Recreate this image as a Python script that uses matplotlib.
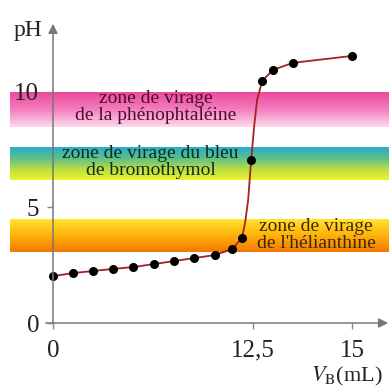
import numpy as np
import matplotlib
matplotlib.use("Agg")
import matplotlib.pyplot as plt
from matplotlib.colors import LinearSegmentedColormap

plt.rcParams['font.family'] = ['Liberation Serif', 'DejaVu Serif']
plt.rcParams['mathtext.fontset'] = 'stix'

# titration points (V_B in mL, pH)
v_pts = [0, 1.25, 2.5, 3.75, 5.0, 6.31, 7.56, 8.81, 10.1, 11.2, 11.8, 12.38, 12.73, 13.0, 13.5, 15.0]
ph_pts = [2.03, 2.16, 2.25, 2.34, 2.42, 2.55, 2.68, 2.81, 2.94, 3.2, 3.68, 7.06, 10.48, 10.95, 11.26, 11.56]

# the drawn curve
v_curve = [0, 1.25, 2.5, 3.75, 5.0, 6.31, 7.56, 8.81, 10.1, 11.2, 11.8, 12.0, 12.19, 12.38,
           12.53, 12.6, 12.73, 13.0, 13.5, 15.0]
ph_curve = [2.03, 2.16, 2.25, 2.34, 2.42, 2.55, 2.68, 2.81, 2.94, 3.2, 3.68, 4.33, 5.32, 7.06,
            8.57, 9.65, 10.48, 10.95, 11.26, 11.56]

# indicator zones (pH top, pH bottom)
zone_names = ["zone de virage\nde la phénophtaléine",
              "zone de virage du bleu\nde bromothymol",
              "zone de virage\nde l'hélianthine"]
zone_top = [10.0, 7.6, 4.5]
zone_bottom = [8.5, 6.2, 3.1]
zone_colors = [["#ea4a9b", "#f37dbd", "#fcd6eb"],
               ["#28aec8", "#5cbf8c", "#b9dc45", "#eef22a"],
               ["#ffe32e", "#ffb10a", "#f27a00"]]
text_colors = ["#4e0c30", "#112a16", "#3e2800"]
text_pos = [(6.44, 9.35), (6.1, 6.97), (14.09, 3.81)]

x_ticks = [0, 12.5, 15]
x_ticklabels = ["0", "12,5", "15"]
y_ticks = [0, 5, 10]

# the x axis of the figure is not to scale: stretched after the equivalence
BREAK = 12.5
def fwd(v):
    v = np.asarray(v, dtype=float)
    return np.where(v <= BREAK, v * 16.0, 200.0 + (v - BREAK) * 39.6)

def inv(p):
    p = np.asarray(p, dtype=float)
    return np.where(p <= 200.0, p / 16.0, BREAK + (p - 200.0) / 39.6)

fig = plt.figure(figsize=(3.89, 3.87), dpi=100)
ax = fig.add_axes([0, 0, 1, 1])
ax.set_xscale('function', functions=(fwd, inv))
ax.set_xlim(-3.31, 15.93)
ax.set_ylim(-2.77, 13.98)

# gradient bands
for top, bot, cols in zip(zone_top, zone_bottom, zone_colors):
    cmap = LinearSegmentedColormap.from_list("z", cols)
    n = 60
    edges = np.linspace(top, bot, n + 1)
    for i in range(n):
        ax.axhspan(edges[i + 1] - 0.01, edges[i], xmin=0.026, xmax=1.0,
                   color=cmap(i / (n - 1)), lw=0, zorder=1)

for name, (tx, ty), tc in zip(zone_names, text_pos, text_colors):
    ax.text(tx, ty, name, ha='center', va='center', fontsize=14, color=tc,
            linespacing=0.95, zorder=3)

# curve + points
ax.plot(v_curve, ph_curve, color="#a82020", lw=1.3, zorder=4)
ax.plot(v_pts, ph_pts, 'o', color="black", ms=5.5, zorder=5)

# axes with arrows
for s in ax.spines.values():
    s.set_visible(False)
ax.spines['left'].set_position(('data', 0))
ax.spines['bottom'].set_position(('data', 0))
ax.annotate('', xy=(0, 12.95), xytext=(0, 0), zorder=6,
            arrowprops=dict(arrowstyle='-|>', color='#777777', lw=1.1,
                            mutation_scale=14, shrinkA=0, shrinkB=0))
ax.annotate('', xy=(15.91, 0), xytext=(-0.45, 0), zorder=6,
            arrowprops=dict(arrowstyle='-|>', color='#777777', lw=1.1,
                            mutation_scale=14, shrinkA=0, shrinkB=0))

ax.set_xticks(x_ticks)
ax.set_xticklabels(x_ticklabels)
ax.set_yticks(y_ticks)
ax.tick_params(axis='both', direction='out', length=4, width=1, color='#888888',
               labelsize=18, labelcolor='#222222', pad=6)
ax.tick_params(axis='x', pad=8)
ax.minorticks_off()

ax.text(-1.56, 12.68, "pH", fontsize=17, ha='center', va='center', color='#222222')
ax.annotate(r"$V_{\rm B}$(mL)", xy=(1 - 6 / 389, 1 - 376 / 387), xycoords='figure fraction',
            ha='right', va='center', fontsize=16, color='#222222', annotation_clip=False)

fig.savefig("out.png", dpi=100)
